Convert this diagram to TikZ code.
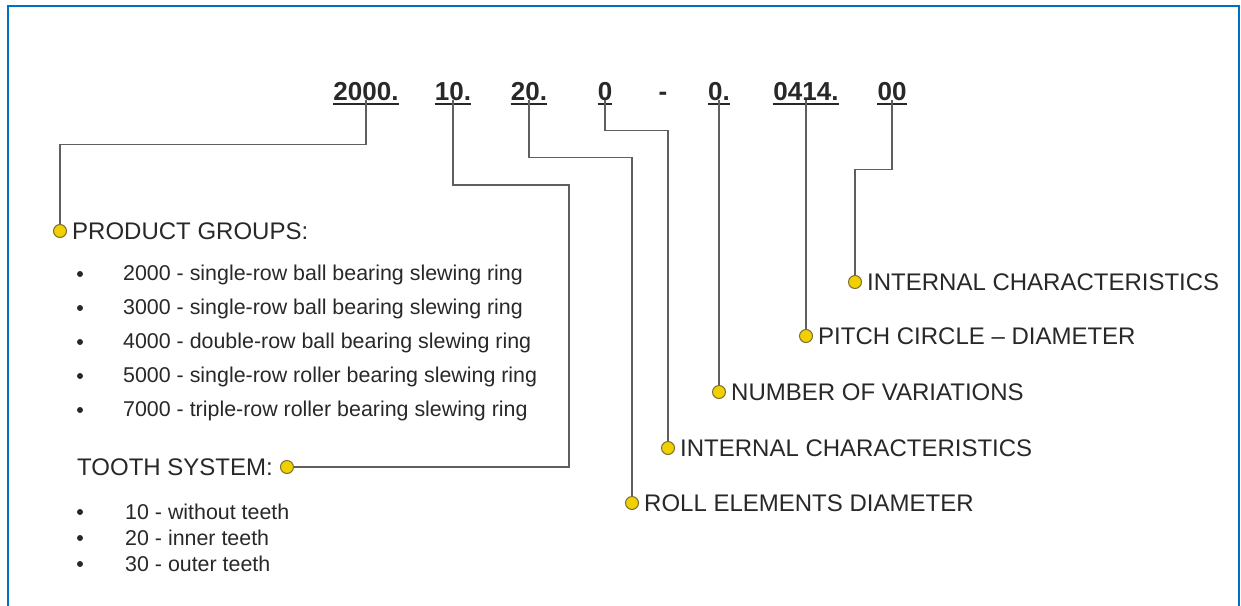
\documentclass[tikz,border=0pt]{standalone}
\usepackage{fontspec}
\setmainfont{Liberation Sans}
\usetikzlibrary{positioning}
\definecolor{frameblue}{RGB}{0,112,192}
\definecolor{dotyellow}{RGB}{240,208,0}
\definecolor{dotrim}{RGB}{125,110,50}
\definecolor{leadgray}{RGB}{95,95,95}
\definecolor{inkgray}{RGB}{40,40,40}

\begin{document}
\begin{tikzpicture}[x=1pt, y=-1pt, inner sep=0pt, code/.style={font=\fontsize{26}{30}\selectfont\bfseries, text=inkgray, anchor=base}, code line/.style={line width=2pt, inkgray}, lead/.style={line width=1.5pt, leadgray}, dot/.style={circle, fill=dotyellow, draw=dotrim, line width=1pt, minimum size=13pt}, head/.style={font=\fontsize{24}{28}\selectfont, text=inkgray, anchor=west}, item/.style={font=\fontsize{21.4}{25}\selectfont, text=inkgray, anchor=base west}, bullet/.style={circle, fill=inkgray, minimum size=6pt}]

    \useasboundingbox (0,0) rectangle (1241,605);
    \draw[frameblue, line width=2.5pt] (8,6) rectangle (1239,640);

    % =========================================================================
    % Code row
    % =========================================================================
    \node[code] (c2000) at (366,100) {2000.};
    \node[code] (c10) at (453,100) {10.};
    \node[code] (c20) at (529,100) {20.};
    \node[code] (c0) at (605,100) {0};
    \node[code] (cdash) at (663,100) {-};
    \node[code] (c0d) at (719,100) {0.};
    \node[code] (c0414) at (806,100) {0414.};
    \node[code] (c00) at (892,100) {00};
    \foreach \n in {c2000,c10,c20,c0,c0d,c0414,c00}
        \draw[code line] ([yshift=-4pt]\n.base west) -- ([yshift=-4pt]\n.base east);

    % =========================================================================
    % Left side: product groups and tooth system
    % =========================================================================
    \node[dot] (dotpg) at (60,231) {};
    \node[head, right=5pt of dotpg] (pg) {PRODUCT GROUPS:};

    \node[bullet] (b1) at (80,274) {}; \node[item] (i1) at (123,280) {2000 - single-row ball bearing slewing ring};
    \node[bullet] (b2) at (80,308) {}; \node[item] (i2) at (123,314) {3000 - single-row ball bearing slewing ring};
    \node[bullet] (b3) at (80,342) {}; \node[item] (i3) at (123,348) {4000 - double-row ball bearing slewing ring};
    \node[bullet] (b4) at (80,376) {}; \node[item] (i4) at (123,382) {5000 - single-row roller bearing slewing ring};
    \node[bullet] (b5) at (80,410) {}; \node[item] (i5) at (123,416) {7000 - triple-row roller bearing slewing ring};

    \node[head] (ts) at (77,467) {TOOTH SYSTEM:};
    \node[dot, right=7pt of ts] (dotts) {};

    \node[bullet] (t1) at (80,512) {}; \node[item] (j1) at (125,519) {10 - without teeth};
    \node[bullet] (t2) at (80,538) {}; \node[item] (j2) at (125,545) {20 - inner teeth};
    \node[bullet] (t3) at (80,564) {}; \node[item] (j3) at (125,571) {30 - outer teeth};

    % =========================================================================
    % Right side: labels
    % =========================================================================
    \node[dot] (dotica) at (855,282) {};
    \node[head, right=5pt of dotica] (ica) {INTERNAL CHARACTERISTICS};
    \node[dot] (dotpc) at (806,336) {};
    \node[head, right=5pt of dotpc] (pc) {PITCH CIRCLE -- DIAMETER};
    \node[dot] (dotnv) at (719,392) {};
    \node[head, right=5pt of dotnv] (nv) {NUMBER OF VARIATIONS};
    \node[dot] (doticb) at (668,448) {};
    \node[head, right=5pt of doticb] (icb) {INTERNAL CHARACTERISTICS};
    \node[dot] (dotre) at (632,503) {};
    \node[head, right=5pt of dotre] (re) {ROLL ELEMENTS DIAMETER};

    % Leaders
    \coordinate (k10) at (569,185);
    \draw[lead] (c2000.south) -- ++(0,44) -| (dotpg);
    \draw[lead] (c10.south) |- (k10) |- (dotts);
    \draw[lead] (c20.south) -- ++(0,57) -| (dotre);
    \draw[lead] (c0.south) -- ++(0,30) -| (doticb);
    \draw[lead] (c0d.south) -- (dotnv);
    \draw[lead] (c0414.south) -- (dotpc);
    \draw[lead] (c00.south) -- ++(0,69) -| (dotica);

\end{tikzpicture}
\end{document}
